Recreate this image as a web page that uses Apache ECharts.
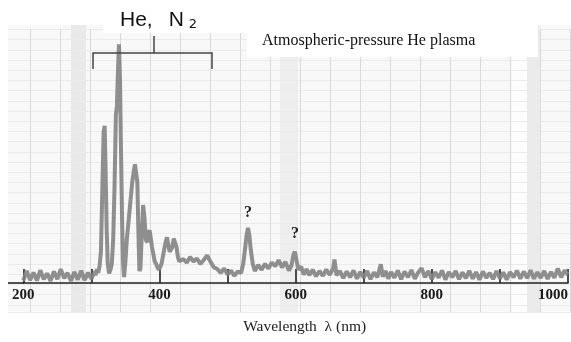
<!DOCTYPE html>
<html>
<head>
<meta charset="utf-8">
<script src="https://cdn.jsdelivr.net/npm/echarts@6/dist/echarts.min.js"></script>
<style>html,body{margin:0;padding:0;background:#fff;}#c{width:571px;height:342px;}</style>
</head>
<body>
<div id="c"></div>
<script>
// Wavelength (nm) of each sample and the read-off intensity (arbitrary units, 0..100)
const wavelength = [
  200,205,210,215,220,225,230,235,240,245,250,255,260,265,270,275,280,285,290,295,300,305,
  306,308,310,312,314,316,318,319.5,321,322.5,324,326,328,330,332,334,336,337.5,339,340.5,342,343.5,345,346.5,348,
  350,352,354,356,358,360,362,364,366,367.5,369,370.5,372,374,376,378,380,382,384,385.5,387,389,391,393,395,397,399,
  401,403,405,407,409,411,413,415,417,419,421,423,425,427,429,431,
  435,440,445,450,455,460,465,470,475,480,485,490,495,500,505,510,515,520,523,526,528,530,532,534,537,540,
  545,550,555,560,565,570,575,580,585,590,594,597,599,601,604,608,612,616,620,625,630,635,640,645,650,655,657,660,
  665,670,675,680,685,690,695,700,705,710,715,720,725,728,732,736,740,745,750,755,760,765,770,775,780,785,790,795,
  800,805,810,815,820,825,830,835,840,845,850,855,860,865,870,875,880,885,890,895,900,905,910,915,920,925,930,935,
  940,945,950,955,960,965,970,975,980,985,990,995,1000
];
const intensity = [
  1.0,5.0,1.2,4.4,1.0,5.3,1.6,4.0,0.9,4.8,1.6,5.8,2.0,4.2,0.9,4.6,1.4,5.1,1.2,4.3,1.8,4.8,
  3.2,5.8,4.2,7.0,13,38,63,65.5,45,22,8,4.0,5.5,8,18,40,70,74,88,99.5,85,55,28,8,2.5,
  9,18,24,30,36,42,46,49.5,50,42,22,5,6,20,32.5,27,18,17,21,22,19,15,12,9,8,6.5,5.5,
  6,8,11,14,17,19,16,13,12.5,15,18.5,19,15,11,9,8.5,
  10,8.5,10.8,9.0,10.2,8.0,9.6,11.5,8.8,6.5,5.8,4.2,6.0,3.5,5.2,3.0,4.8,4.2,8,15,20,23,20,14,8,5.0,
  7.5,5.5,8.0,6.0,8.5,7.0,9.5,6.5,8.8,5.2,7.5,12,13,10,5.5,6.8,3.5,5.8,3.2,5.5,2.8,5.0,3.0,5.6,3.4,6.0,9.8,3.2,
  5.0,2.0,4.8,2.4,5.2,1.8,4.6,2.2,5.0,1.6,4.4,2.4,7.8,2.6,5.0,1.8,4.6,2.2,5.2,1.6,4.8,2.4,5.4,1.8,4.4,6.2,2.4,5.0,
  1.6,4.5,2.2,5.2,1.4,4.6,2.4,5.0,1.6,4.4,2.0,5.1,1.8,4.5,1.4,4.8,2.2,4.2,1.6,5.0,1.9,4.4,1.4,4.6,2.3,5.2,1.8,4.8,
  2.0,5.3,1.8,4.5,2.1,5.0,1.7,4.6,2.2,6.0,2.4,5.2,3.5
];
// Axis tick labels shown under the axis
const tickLabels = ['200','400','600','800','1000'];
// Unidentified peaks marked with "?"
const questionPeaks = [[530, 23], [599, 13]];

const seriesData = wavelength.map((w, i) => [w, intensity[i]]);
const serif = '"Liberation Serif","Times New Roman",serif';

const chart = echarts.init(document.getElementById('c'), null, {renderer: 'canvas'});
chart.setOption({
  animation: false,
  backgroundColor: '#ffffff',
  grid: [
    {left: 23.3, right: 2.5, top: 43, bottom: 59},
    {left: -5.3, right: 0, top: 29.4, bottom: 30}
  ],
  xAxis: [
    {
      type: 'value', gridIndex: 0, min: 200, max: 1000, interval: 100,
      axisLine: {show: true, onZero: false, lineStyle: {color: '#222', width: 1.6}},
      axisTick: {show: true, inside: true, length: 14, lineStyle: {color: '#222', width: 1.6}},
      axisLabel: {
        show: true, margin: 5, color: '#1a1a1a', fontFamily: serif, fontWeight: 'bold', fontSize: 15,
        alignMaxLabel: 'right',
        formatter: v => (tickLabels.indexOf(String(v)) >= 0 ? String(v) : '')
      },
      splitLine: {show: false},
      name: 'Wavelength  λ (nm)', nameLocation: 'middle', nameGap: 36,
      nameTextStyle: {color: '#222', fontFamily: serif, fontSize: 15.5, padding: [0, 0, 0, 18]}
    },
    {
      type: 'value', gridIndex: 1, min: 0, max: 576.3, interval: 30.3,
      axisLine: {show: false}, axisTick: {show: false}, axisLabel: {show: false},
      splitLine: {show: true, lineStyle: {color: '#dadada', width: 1}}
    }
  ],
  yAxis: [
    {
      type: 'value', gridIndex: 0, min: 0, max: 100,
      axisLine: {show: false}, axisTick: {show: false}, axisLabel: {show: false}, splitLine: {show: false}
    },
    {
      type: 'value', gridIndex: 1, min: 0, max: 282.6, interval: 10.2, inverse: true,
      axisLine: {show: false}, axisTick: {show: false}, axisLabel: {show: false},
      splitLine: {show: true, lineStyle: {color: '#ebebeb', width: 1}}
    }
  ],
  graphic: [
    {type: 'rect', z: -10, shape: {x: 8, y: 25, width: 563, height: 287}, style: {fill: '#f8f8f8'}},
    {type: 'rect', z: -9, shape: {x: 71, y: 25, width: 15, height: 287}, style: {fill: '#e9e9e9'}},
    {type: 'rect', z: -9, shape: {x: 280, y: 25, width: 18, height: 287}, style: {fill: '#eeeeee'}},
    {type: 'rect', z: -9, shape: {x: 512, y: 25, width: 15, height: 287}, style: {fill: '#fdfdfd'}},
    {type: 'rect', z: -9, shape: {x: 527, y: 25, width: 13, height: 287}, style: {fill: '#ebebeb'}},
    {type: 'rect', z: 50, shape: {x: 0, y: 0, width: 8, height: 342}, style: {fill: '#ffffff'}},
    {type: 'rect', z: 50, shape: {x: 103, y: 0, width: 145, height: 33}, style: {fill: '#ffffff'}},
    {type: 'rect', z: 50, shape: {x: 247, y: 0, width: 291, height: 57}, style: {fill: '#ffffff'}},
    {type: 'line', z: 60, shape: {x1: 8, y1: 283, x2: 24, y2: 283}, style: {stroke: '#222', lineWidth: 1.6}},
    {type: 'polyline', z: 60, shape: {points: [[93, 69], [93, 53], [212, 53], [212, 69]]}, style: {stroke: '#444', lineWidth: 1.5, fill: null}},
    {type: 'line', z: 60, shape: {x1: 154, y1: 36, x2: 154, y2: 53}, style: {stroke: '#444', lineWidth: 1.5}},
    {type: 'text', z: 60, x: 120, y: 31, style: {
      text: '{a|He,}{n|N}{b|2}', verticalAlign: 'bottom',
      rich: {
        a: {fontFamily: '"Liberation Sans",Arial,sans-serif', fontSize: 21, fill: '#111'},
        n: {fontFamily: '"Liberation Sans",Arial,sans-serif', fontSize: 21, fill: '#111', padding: [0, 0, 0, 16]},
        b: {fontFamily: '"DejaVu Sans",sans-serif', fontSize: 13, fill: '#111', padding: [8, 0, 0, 5]}
      }
    }},
    {type: 'text', z: 60, x: 262, y: 41, style: {
      text: 'Atmospheric-pressure He plasma', verticalAlign: 'middle',
      fontFamily: serif, fontSize: 16, fill: '#111'
    }}
  ],
  series: [
    {
      type: 'line', xAxisIndex: 0, yAxisIndex: 0, data: seriesData,
      showSymbol: false, symbol: 'none', smooth: false, z: 5,
      lineStyle: {color: '#838383', width: 4, opacity: 0.9},
      markPoint: {
        symbol: 'circle', symbolSize: 1, itemStyle: {color: 'rgba(0,0,0,0)'},
        label: {show: true, position: 'inside', formatter: '?', color: '#222',
          fontFamily: serif, fontWeight: 'bold', fontSize: 16},
        data: [
          {coord: questionPeaks[0], label: {offset: [0, -15]}},
          {coord: questionPeaks[1], label: {offset: [0, -18]}}
        ]
      }
    }
  ]
});
</script>
</body>
</html>
